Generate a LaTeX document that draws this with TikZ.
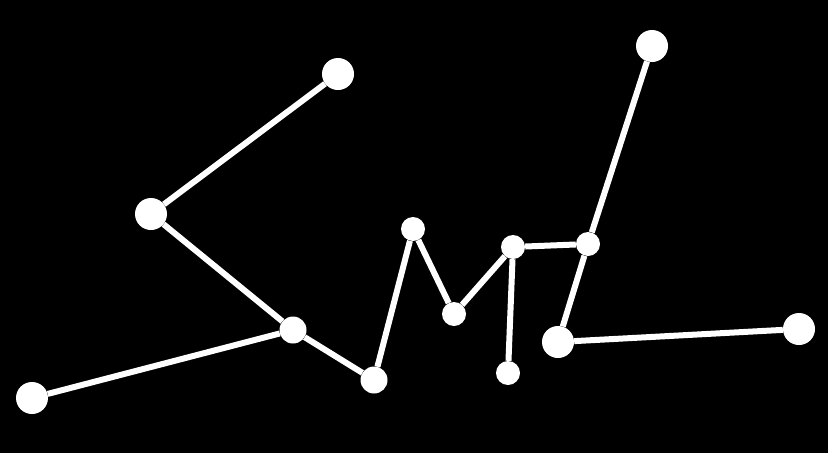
\documentclass[tikz,border=0pt]{standalone}
\begin{document}
\begin{tikzpicture}[x=1pt,y=-1pt,
  big/.style={circle,fill=white,inner sep=0pt,minimum size=32pt},
  mid/.style={circle,fill=white,inner sep=0pt,minimum size=27pt},
  small/.style={circle,fill=white,inner sep=0pt,minimum size=24pt},
  link/.style={white,line width=6pt}]
\fill[black] (0,0) rectangle (828,453);
\useasboundingbox (0,0) rectangle (828,453);
\node[big] (A) at (338,74) {};
\node[big] (B) at (151,214) {};
\node[mid] (C) at (293,330) {};
\node[big] (D) at (32,398) {};
\node[mid] (E) at (374,380) {};
\node[small] (F) at (413,229) {};
\node[small] (G) at (454,314) {};
\node[small] (H) at (513,247) {};
\node[small] (I) at (508,373) {};
\node[small] (J) at (588,244) {};
\node[big] (K) at (652,46) {};
\node[big] (L) at (558,342) {};
\node[big] (M) at (799,329) {};
\draw[link] (A) -- (B);
\draw[link] (B) -- (C);
\draw[link] (C) -- (D);
\draw[link] (C) -- (E);
\draw[link] (E) -- (F);
\draw[link] (F) -- (G);
\draw[link] (G) -- (H);
\draw[link] (H) -- (I);
\draw[link] (H) -- (J);
\draw[link] (J) -- (K);
\draw[link] (J) -- (L);
\draw[link] (L) -- (M);
\end{tikzpicture}
\end{document}
